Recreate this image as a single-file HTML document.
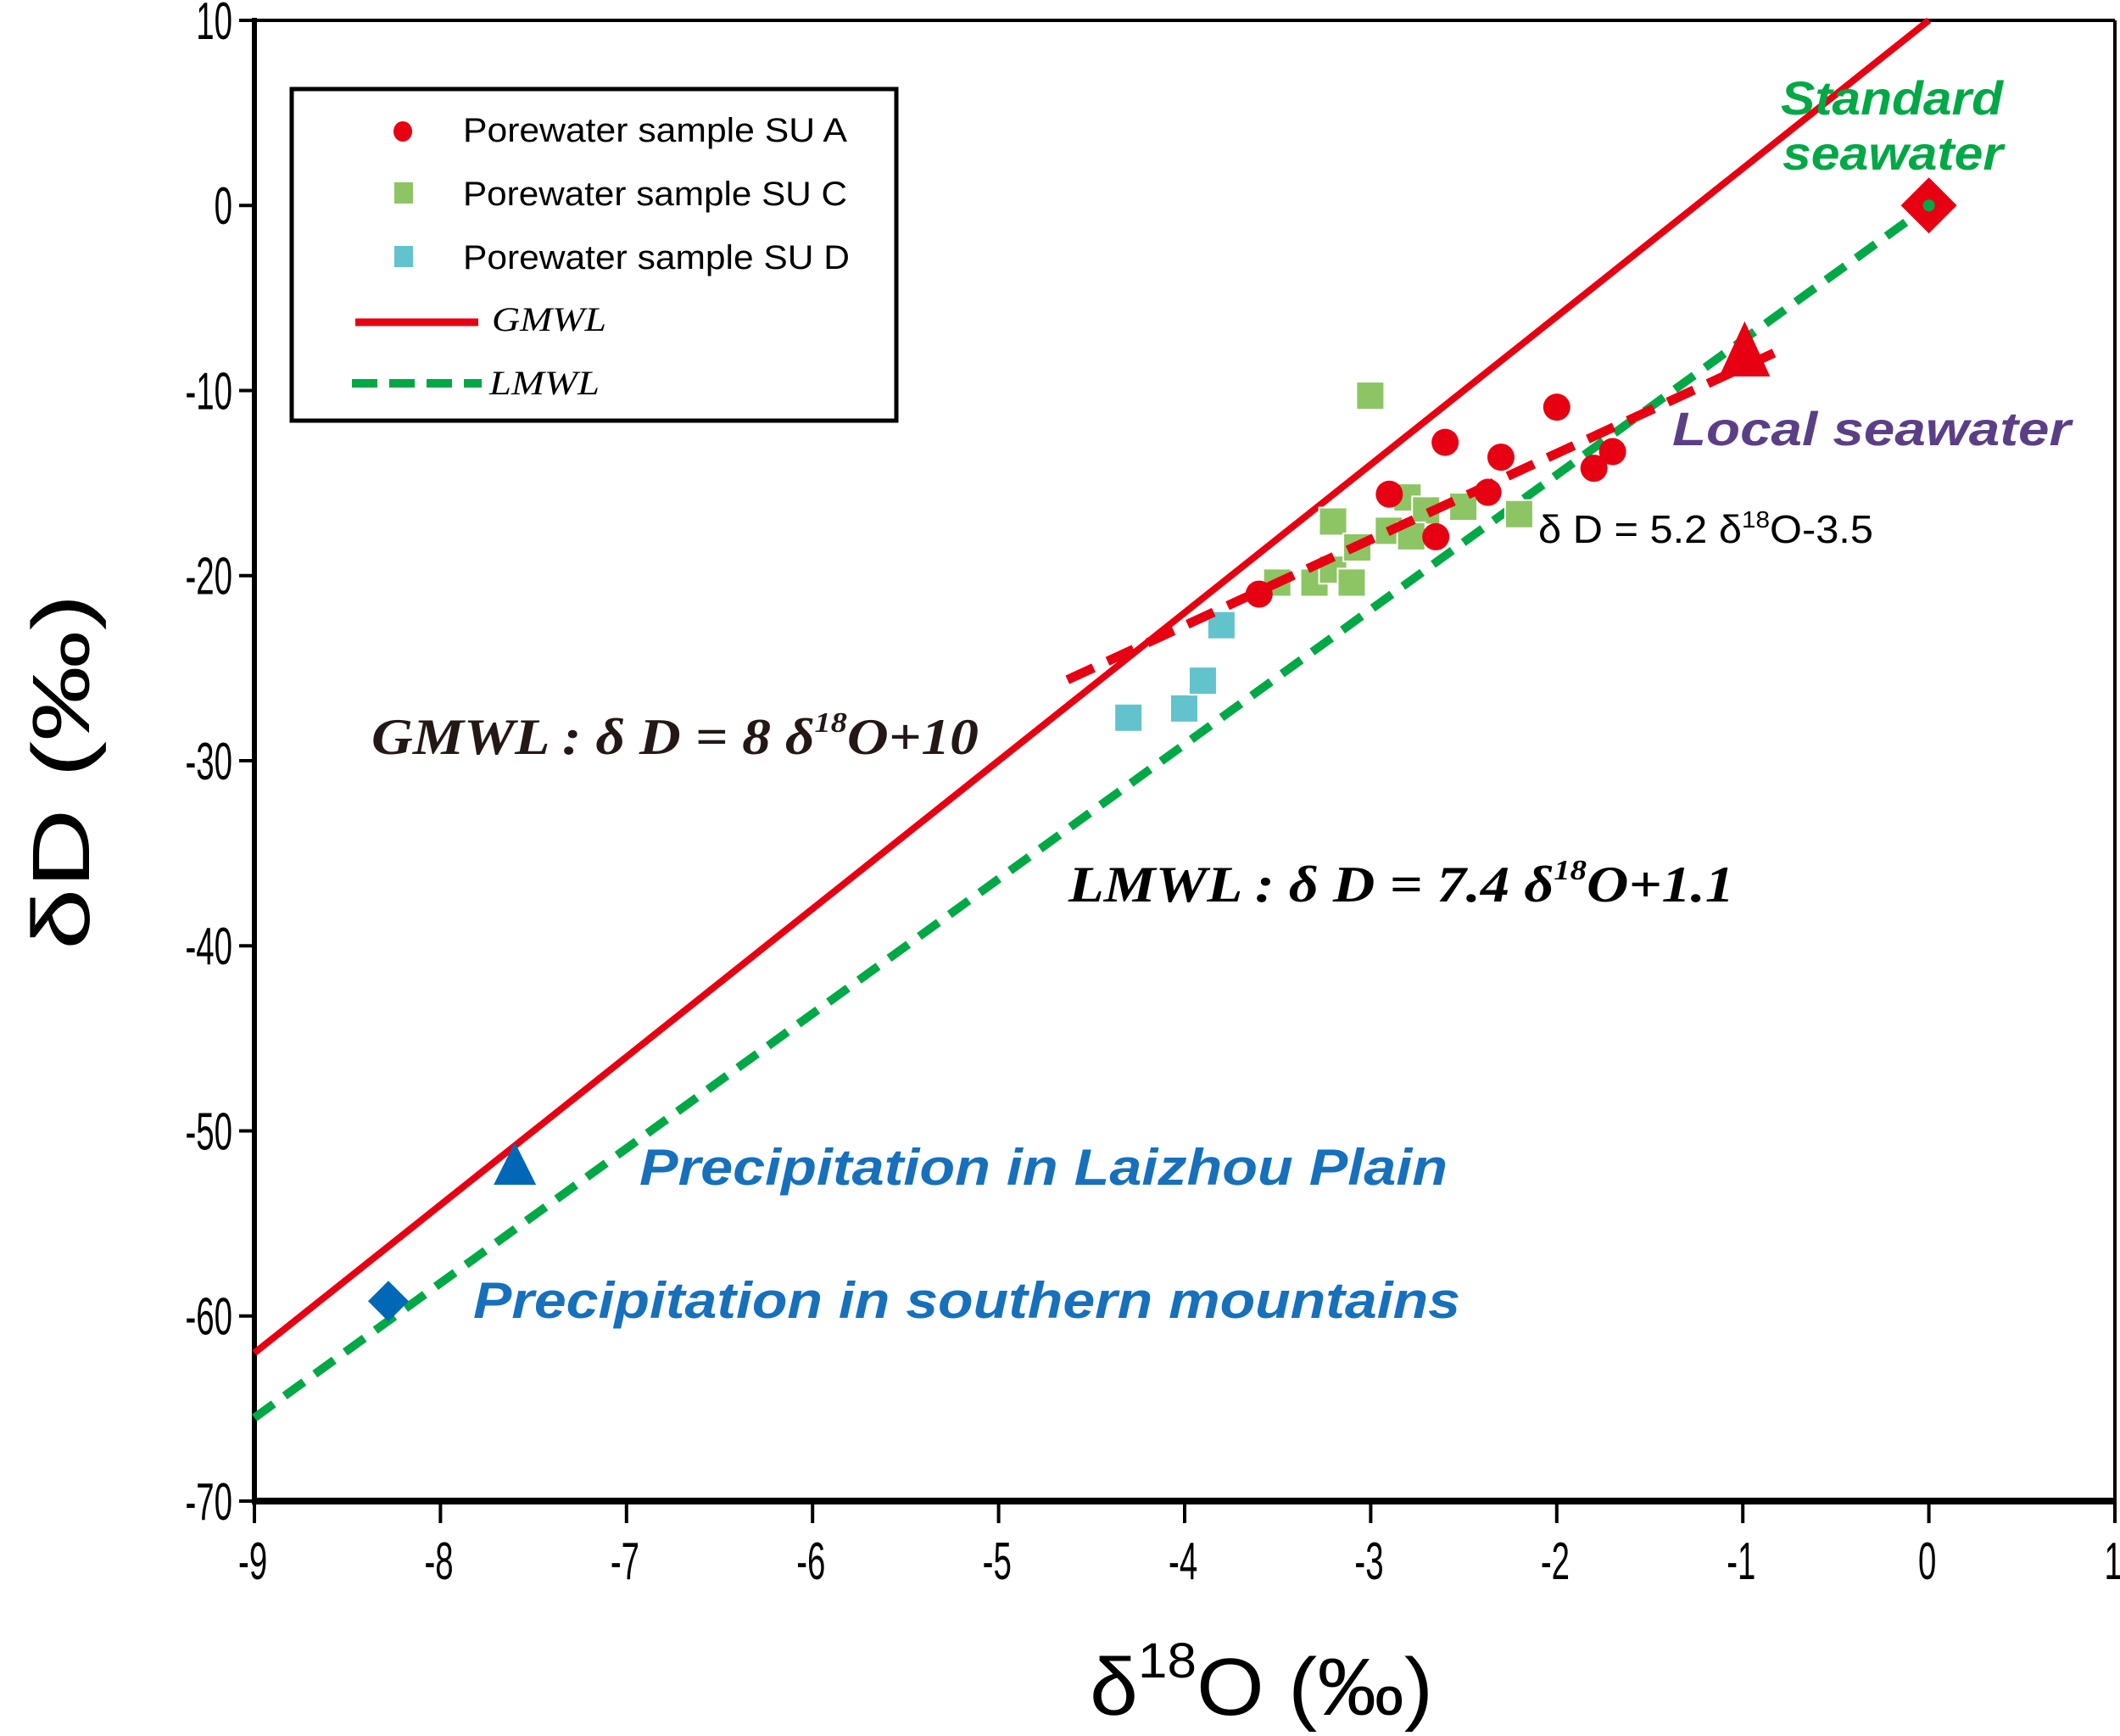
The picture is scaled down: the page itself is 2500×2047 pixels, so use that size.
<!DOCTYPE html>
<html><head><meta charset="utf-8"><style>
html,body{margin:0;padding:0;background:#fff;}
svg{display:block;}
</style></head><body>
<svg id="chart" width="2500" height="2047" viewBox="0 0 2500 2047" xmlns="http://www.w3.org/2000/svg">
<rect x="0" y="0" width="2500" height="2047" fill="#fff"/>
<g id="plot"></g>
</svg>
<script>
const xTicks = [-9,-8,-7,-6,-5,-4,-3,-2,-1,0,1];
const yTicks = [10,0,-10,-20,-30,-40,-50,-60,-70];
const suA_x = [-2.0,-2.6,-2.3,-1.8,-1.7,-2.9,-2.37,-2.65,-3.6];
const suA_y = [-10.9,-12.8,-13.6,-14.2,-13.3,-15.6,-15.5,-17.9,-21.0];
const suC_x = [-3.0,-3.2,-2.2,-2.5,-2.8,-2.9,-3.5,-3.3,-3.2,-3.1,-3.07,-2.7,-2.78];
const suC_y = [-10.3,-17.1,-16.7,-16.3,-15.8,-17.6,-20.4,-20.4,-19.7,-20.4,-18.5,-16.5,-17.9];
const suD_x = [-3.8,-4.3,-4.0,-3.9];
const suD_y = [-22.7,-27.7,-27.2,-25.7];
const gmwl = [8,10];
const lmwl = [7.4,1.1];
const regLine = [4.65,-4.1];
const regRange = [-4.63,-0.76];

const X0=300, X1=2494, Y0=24, Y1=1770;
const xS = v => X0 + (v+9)/10*(X1-X0);
const yS = v => Y0 + (10-v)/80*(Y1-Y0);
const NS="http://www.w3.org/2000/svg";
const plot=document.getElementById('plot');
function mk(tag, attrs, parent){const e=document.createElementNS(NS,tag);for(const k in attrs)e.setAttribute(k,attrs[k]);(parent||plot).appendChild(e);return e;}

let e;
e=mk('line',{x1:X0,y1:Y0,x2:X1,y2:Y0,stroke:'#000','stroke-width':4});


e=mk('line',{x1:X1,y1:Y0,x2:X1,y2:Y1,stroke:'#000','stroke-width':4});


e=mk('line',{x1:X0,y1:Y0-3,x2:X0,y2:Y1+4,stroke:'#000','stroke-width':6});


e=mk('line',{x1:X0-3,y1:Y1,x2:X1+2,y2:Y1,stroke:'#000','stroke-width':8});



xTicks.forEach(t=>{
  const x=xS(t);
  const l=mk('line',{x1:x,y1:Y1,x2:x,y2:Y1+26,stroke:'#000','stroke-width':4});
  
  
  const tx=mk('text',{x:x-3,y:1862,'font-family':'Liberation Sans, sans-serif','font-size':62,'text-anchor':'middle',transform:`translate(${x},0) scale(0.62,1) translate(${-x},0)`});
  tx.textContent=t;
  
  
});
yTicks.forEach(t=>{
  const y=yS(t);
  const l=mk('line',{x1:X0-18,y1:y,x2:X0,y2:y,stroke:'#000','stroke-width':4});
  
  
  const tx=mk('text',{x:274,y:y+22,'font-family':'Liberation Sans, sans-serif','font-size':62,'text-anchor':'end',transform:`translate(274,0) scale(0.62,1) translate(-274,0)`});
  tx.textContent=t;
  
  
});

e=mk('line',{x1:xS(-9),y1:yS(gmwl[0]*-9+gmwl[1]),x2:xS(0),y2:yS(gmwl[1]),stroke:'#e60012','stroke-width':8});


e=mk('line',{x1:xS(-9),y1:yS(lmwl[0]*-9+lmwl[1]),x2:xS(0),y2:yS(0),stroke:'#00a846','stroke-width':10,'stroke-dasharray':'28 16'});



suD_x.forEach((v,i)=>{
  const r=mk('rect',{x:xS(v)-17,y:yS(suD_y[i])-17,width:33,height:33,fill:'#63c3cc',stroke:'#fff','stroke-width':2});
  
  
});
suC_x.forEach((v,i)=>{
  const r=mk('rect',{x:xS(v)-17,y:yS(suC_y[i])-17,width:33,height:33,fill:'#8dc564',stroke:'#fff','stroke-width':2});
  
  
});
suA_x.forEach((v,i)=>{
  const c=mk('ellipse',{cx:xS(v),cy:yS(suA_y[i]),rx:16,ry:16,fill:'#e60012'});
  
  
});
e=mk('line',{x1:xS(regRange[0]),y1:yS(regLine[0]*regRange[0]+regLine[1]),x2:xS(regRange[1]),y2:yS(regLine[0]*regRange[1]+regLine[1]),stroke:'#e60012','stroke-width':11,'stroke-dasharray':'34 18'});



const sx=xS(0), sy=yS(0);
e=mk('polygon',{points:`${sx},${sy-33} ${sx+33},${sy} ${sx},${sy+33} ${sx-33},${sy}`,fill:'#e60012'});


e=mk('circle',{cx:sx,cy:sy,r:7,fill:'#00a846'});


const lx=xS(-0.99), ly=yS(-8.0);
e=mk('polygon',{points:`${lx},${ly-38} ${lx+30},${ly+27} ${lx-30},${ly+27}`,fill:'#e60012'});


const px=xS(-7.6), py=yS(-51.9);
e=mk('polygon',{points:`${px},${py-28} ${px+25},${py+22} ${px-25},${py+22}`,fill:'#0068b7'});


const mx=xS(-8.28), my=yS(-59.2);
e=mk('polygon',{points:`${mx},${my-24} ${mx+24},${my} ${mx},${my+24} ${mx-24},${my}`,fill:'#0068b7'});



e=mk('rect',{x:344,y:105,width:713,height:391,fill:'#fff',stroke:'#000','stroke-width':5});


e=mk('ellipse',{cx:475,cy:155,rx:11,ry:12,fill:'#e60012'});


e=mk('rect',{x:465,y:215,width:22,height:25,fill:'#8dc564'});


e=mk('rect',{x:465,y:290,width:22,height:25,fill:'#63c3cc'});


e=mk('line',{x1:419,y1:380,x2:564,y2:380,stroke:'#e60012','stroke-width':9});


e=mk('line',{x1:415,y1:452,x2:568,y2:452,stroke:'#00a846','stroke-width':10,'stroke-dasharray':'30 14'});



function txt(s,attrs,name,len){
  const t=mk('text',Object.assign({'font-family':'Liberation Sans, sans-serif'},attrs));
  t.textContent=s;
  if(len){t.setAttribute('textLength',len);t.setAttribute('lengthAdjust','spacingAndGlyphs');}
  
  
  return t;
}
txt('Porewater sample  SU A',{x:546,y:167,'font-size':40},'legend-label-su-a',453);
txt('Porewater  sample SU C',{x:546,y:242,'font-size':40},'legend-label-su-c',453);
txt('Porewater  sample SU D',{x:546,y:317,'font-size':40},'legend-label-su-d',456);
txt('GMWL',{x:580,y:390,'font-size':40,'font-family':'Liberation Serif, serif','font-style':'italic'},'legend-label-gmwl',135);
txt('LMWL',{x:577,y:465,'font-size':40,'font-family':'Liberation Serif, serif','font-style':'italic'},'legend-label-lmwl',130);

txt('Standard',{x:2100,y:135,'font-size':56,'font-weight':'bold','font-style':'italic',fill:'#00a846'},'standard-seawater-label',262);
txt('seawater',{x:2102,y:200,'font-size':56,'font-weight':'bold','font-style':'italic',fill:'#00a846'},'standard-seawater-label-2',260);
txt('Local seawater',{x:1972,y:525,'font-size':56,'font-weight':'bold','font-style':'italic',fill:'#5b3f86'},'local-seawater-label',470);

const reg=mk('text',{x:1814,y:640,'font-family':'Liberation Sans, sans-serif','font-size':46,textLength:395,lengthAdjust:'spacingAndGlyphs'});
reg.innerHTML='δ  D = 5.2 δ<tspan dy="-18" font-size="28">18</tspan><tspan dy="18">O-3.5</tspan>';



const g1=mk('text',{x:438,y:889,'font-family':'Liberation Serif, serif','font-size':60,'font-weight':'bold','font-style':'italic',fill:'#231815',textLength:716,lengthAdjust:'spacingAndGlyphs'});
g1.innerHTML='GMWL :   δ  D = 8 δ<tspan dy="-26" font-size="34">18</tspan><tspan dy="26">O+10</tspan>';


const g2=mk('text',{x:1260,y:1063,'font-family':'Liberation Serif, serif','font-size':60,'font-weight':'bold','font-style':'italic',fill:'#000',textLength:785,lengthAdjust:'spacingAndGlyphs'});
g2.innerHTML='LMWL :   δ  D = 7.4 δ<tspan dy="-26" font-size="34">18</tspan><tspan dy="26">O+1.1</tspan>';



txt('Precipitation in Laizhou Plain',{x:754,y:1397,'font-size':60,'font-weight':'bold','font-style':'italic',fill:'#1670bc'},'laizhou-precipitation-label',953);
txt('Precipitation in southern mountains',{x:558,y:1554,'font-size':60,'font-weight':'bold','font-style':'italic',fill:'#1670bc'},'southern-precipitation-label',1164);

const xt=mk('text',{x:1285,y:2022,'font-family':'Liberation Sans, sans-serif','font-size':96,textLength:405,lengthAdjust:'spacingAndGlyphs'});
xt.innerHTML='δ<tspan dy="-44" font-size="58">18</tspan><tspan dy="44">O (‰)</tspan>';


const yt=mk('text',{x:0,y:0,'font-family':'Liberation Sans, sans-serif','font-size':96,transform:'translate(105,1120) rotate(-90)',textLength:420,lengthAdjust:'spacingAndGlyphs'});
yt.textContent='δD  (‰)';


</script>
</body></html>
